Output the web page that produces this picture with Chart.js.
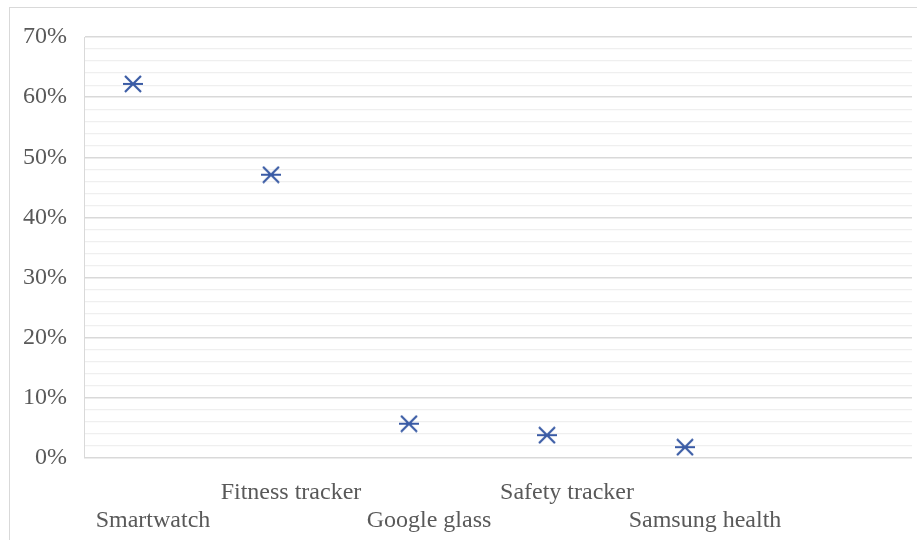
<!DOCTYPE html>
<html>
<head>
<meta charset="utf-8">
<script src="https://cdn.jsdelivr.net/npm/chart.js@4.4.1/dist/chart.umd.min.js"></script>
<style>
  html, body { margin: 0; padding: 0; background: #fff; overflow: hidden; }
  #wrap { position: relative; width: 917px; height: 540px; }
  #frame { position: absolute; left: 9px; top: 7px; width: 920px; height: 540px;
           border-left: 1px solid #d9d9d9; border-top: 1px solid #d9d9d9; pointer-events: none; }
  canvas { position: absolute; left: 0; top: 0; }
</style>
</head>
<body>
<div id="wrap">
  <canvas id="chart" width="917" height="540"></canvas>
  <div id="frame"></div>
</div>
<script>
// data
const categories = ['Smartwatch', 'Fitness tracker', 'Google glass', 'Safety tracker', 'Samsung health'];
const shares = [62.2, 47.1, 5.7, 3.8, 1.8];          // percent
const xPos = [0.355, 1.355, 2.355, 3.355, 4.355];     // where Excel put the markers inside each slot
const yTicks = [0, 10, 20, 30, 40, 50, 60, 70];

const grey = '#595959';
const blue = '#3a5ba5';

// Excel style "star" marker: X with a horizontal bar
function makeMarker() {
    const m = document.createElement('canvas');
    m.width = 20; m.height = 18;
    const g = m.getContext('2d');
    g.strokeStyle = blue;
    g.lineWidth = 2.2;
    g.beginPath();
    g.moveTo(2, 1); g.lineTo(18, 17);
    g.moveTo(18, 1); g.lineTo(2, 17);
    g.moveTo(0, 9); g.lineTo(20, 9);
    g.stroke();
    return m;
}

const el = (id) => document.getElementById(id);

new Chart(el('chart').getContext('2d'), {
    type: 'scatter',
    data: {
        datasets: [{
            data: shares.map((v, i) => ({ x: xPos[i], y: v })),
            pointStyle: makeMarker(),
            showLine: false
        }]
    },
    options: {
        animation: false,
        responsive: false,
        devicePixelRatio: 1,
        layout: { padding: { top: 37, right: 4, left: 0, bottom: 0 } },
        plugins: { legend: { display: false }, tooltip: { enabled: false } },
        scales: {
            x: {
                type: 'linear',
                min: 0,
                max: 6,
                afterFit: (s) => { s.height = 82; },
                afterBuildTicks: (s) => { s.ticks = categories.map((c, i) => ({ value: i + 0.5 })); },
                grid: { display: false },
                border: { display: false },
                ticks: {
                    autoSkip: false,
                    maxRotation: 0,
                    padding: 13,
                    color: grey,
                    font: { family: '"Liberation Serif", "Times New Roman", serif', size: 24, lineHeight: 1.15 },
                    callback: (v, i) => (i % 2 === 0 ? ['', categories[i]] : [categories[i], ''])
                }
            },
            y: {
                min: 0,
                max: 70,
                afterFit: (s) => { s.width = 84; },
                grid: {
                    drawTicks: false,
                    color: (ctx) => (yTicks.includes(ctx.tick.value) ? '#d9d9d9' : '#efefef'),
                    lineWidth: (ctx) => (yTicks.includes(ctx.tick.value) ? 1.5 : 1.2)
                },
                border: { display: true, color: '#d9d9d9', width: 1 },
                ticks: {
                    stepSize: 2,
                    autoSkip: false,
                    padding: 17,
                    color: grey,
                    font: { family: '"Liberation Serif", "Times New Roman", serif', size: 24 },
                    callback: (v) => (yTicks.includes(v) ? v + '%' : '')
                }
            }
        }
    }
});
</script>
</body>
</html>
